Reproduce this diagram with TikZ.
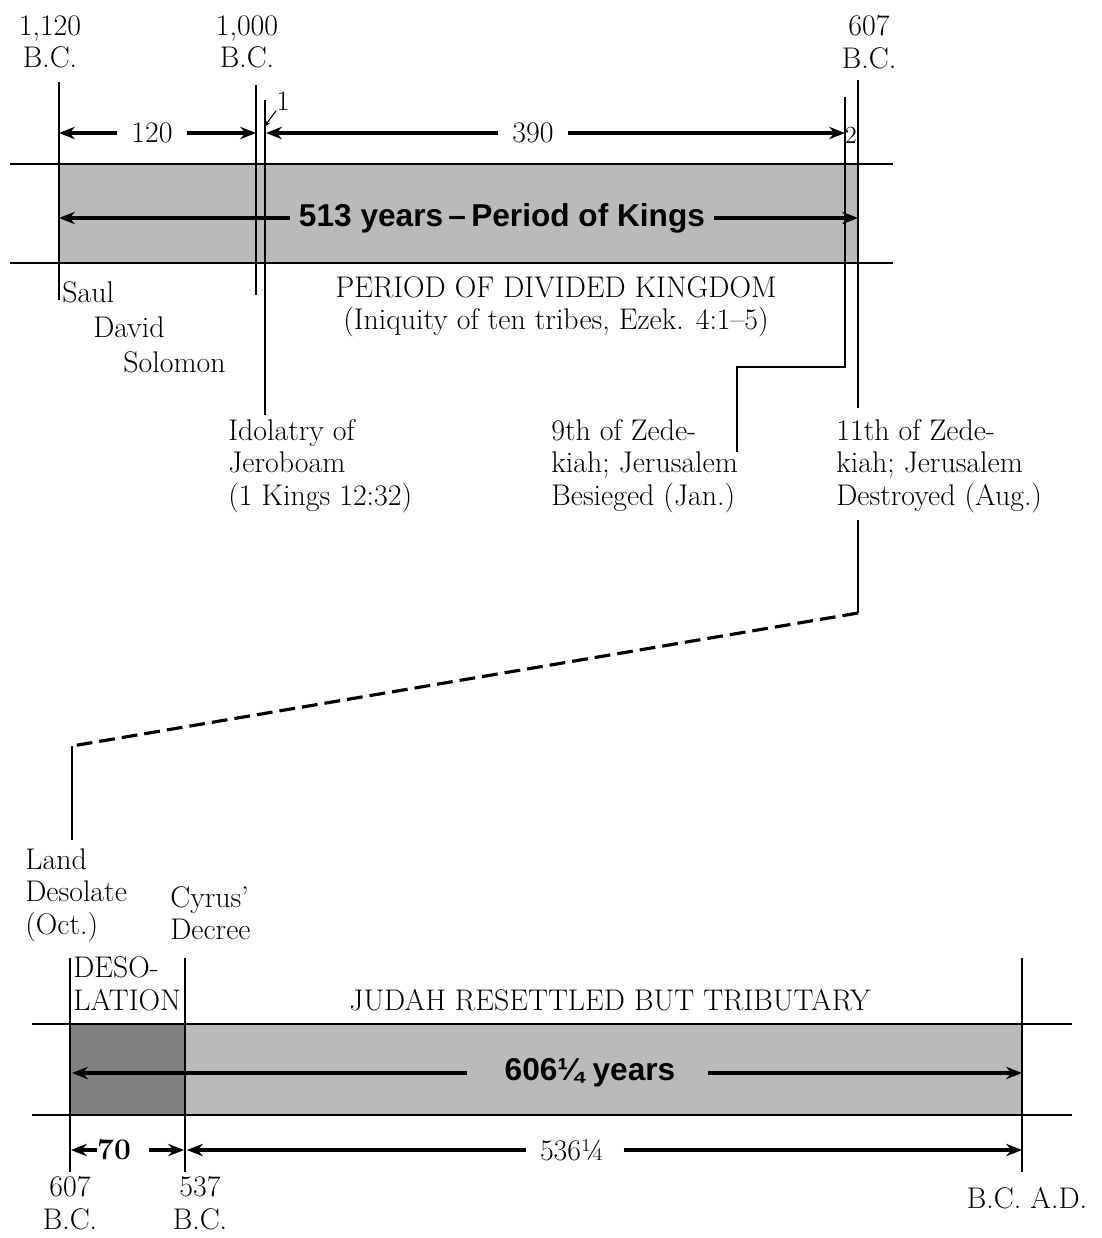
\documentclass[tikz,border=0pt]{standalone}
\usepackage{fontspec}
\newfontfamily\bandfont{Liberation Sans}
\usetikzlibrary{arrows.meta, positioning, calc}
\tikzset{
    tick_line/.style={draw=black, line width=1pt},
    band_line/.style={draw=black, line width=1.2pt},
    link_dash/.style={draw=black, line width=1.8pt, dash pattern=on 9pt off 4pt},
    dim_arrow/.style={-{Stealth[length=9pt,width=7pt]}, line width=1.8pt},
    band_arrow/.style={-{Stealth[length=9pt,width=7pt]}, line width=2pt},
    shade_light/.style={fill=black!27},
    shade_dark/.style={fill=black!50},
    year_lbl/.style={align=center, inner sep=0pt, font=\fontsize{17}{18.5}\selectfont},
    event_lbl/.style={align=left, anchor=west, inner sep=0pt, font=\fontsize{17}{18.5}\selectfont},
    band_lbl/.style={inner sep=0pt, font=\bandfont\bfseries\fontsize{18}{20}\selectfont}
}

\begin{document}
\begin{tikzpicture}[x=0.02cm, y=-0.02cm, >=Stealth]
    \useasboundingbox (0,0) rectangle (1102,1238);

    % period of kings
    \fill[shade_light] (59,164) rectangle (858,263);
    \draw[band_line] (10,164) -- (893,164);
    \draw[band_line] (10,263) -- (893,263);

    \node[year_lbl] (y1120) at (50,42) {1,120\\B.C.};
    \node[year_lbl] (y1000) at (247,42) {1,000\\B.C.};
    \node[year_lbl] (y607a) at (869,42) {607\\B.C.};

    \draw[tick_line] (59,82) -- (59,300);
    \draw[tick_line] (256,85) -- (256,295);
    \draw[tick_line] (265,100) -- (265,415);
    \draw[tick_line] (845,97) |- (737,367) -- (737,452);
    \draw[tick_line] (858,80) -- (858,408);

    \coordinate (k1120) at (59,133);
    \coordinate (k1000) at (256,133);
    \coordinate (kidol) at (266,133);
    \coordinate (k9th) at (845,133);

    \node[year_lbl] (n120) at (152,133) {120};
    \node[year_lbl] (n390) at (533,133) {390};
    \draw[dim_arrow] ([xshift=-8pt]n120.west) -- (k1120);
    \draw[dim_arrow] ([xshift=8pt]n120.east) -- (k1000);
    \draw[dim_arrow] ([xshift=-8pt]n390.west) -- (kidol);
    \draw[dim_arrow] ([xshift=8pt]n390.east) -- (k9th);

    \node[inner sep=0pt, font=\fontsize{16}{18}\selectfont] (n1) at (283,101) {1};
    \draw[-{Stealth[length=4pt,width=3pt]}, line width=0.6pt] (n1.south west) -- (264,127);
    \node[inner sep=0pt, font=\fontsize{14}{16}\selectfont] (n2) at (851,135) {2};

    \coordinate (kstart) at (59,218);
    \coordinate (kend) at (858,218);
    \node[band_lbl] (n513) at (502,218) {513 years\,–\,Period of Kings};
    \draw[band_arrow] (n513.west -| 290,0) -- (kstart);
    \draw[band_arrow] (n513.east -| 714,0) -- (kend);

    \node[event_lbl] (saul) at (62,292) {Saul};
    \node[event_lbl] (david) at (93,327) {David};
    \node[event_lbl] (solomon) at (123,362) {Solomon};
    \node[year_lbl] (divided) at (556,307) {PERIOD OF DIVIDED KINGDOM\\(Iniquity of ten tribes, Ezek. 4:1--5)};

    \node[event_lbl] (idol) at (228,466) {Idolatry of\\Jeroboam\\(1 Kings 12:32)};
    \node[event_lbl] (siege) at (551,466) {9th of Zede-\\kiah; Jerusalem\\Besieged (Jan.)};
    \node[event_lbl] (ruin) at (836,466) {11th of Zede-\\kiah; Jerusalem\\Destroyed (Aug.)};

    % link to the desolation
    \coordinate (ruin_tail) at (858,520);
    \coordinate (ruin_foot) at (858,613);
    \coordinate (land_head) at (72,746);
    \coordinate (land_tail) at (72,840);
    \draw[tick_line] (ruin_tail) -- (ruin_foot);
    \draw[link_dash] (ruin_foot) -- (land_head);
    \draw[tick_line] (land_head) -- (land_tail);

    % desolation and resettlement
    \node[event_lbl] (land) at (25,895) {Land\\Desolate\\(Oct.)};
    \node[event_lbl] (cyrus) at (170,913) {Cyrus'\\Decree};
    \node[event_lbl] (deso) at (73,984) {DESO-\\LATION};
    \node[year_lbl] (judah) at (610,1000) {JUDAH RESETTLED BUT TRIBUTARY};

    \fill[shade_dark] (70,1024) rectangle (185,1115);
    \fill[shade_light] (185,1024) rectangle (1022,1115);
    \draw[band_line] (32,1024) -- (1072,1024);
    \draw[band_line] (32,1115) -- (1072,1115);

    \draw[tick_line] (70,958) -- (70,1172);
    \draw[tick_line] (185,958) -- (185,1172);
    \draw[tick_line] (1022,958) -- (1022,1172);

    \coordinate (d607) at (72,1073);
    \coordinate (dad) at (1022,1073);
    \node[band_lbl] (n606) at (590,1073) {606¼ years};
    \draw[band_arrow] (n606.west -| 467,0) -- (d607);
    \draw[band_arrow] (n606.east -| 708,0) -- (dad);

    \coordinate (b607) at (71,1150);
    \coordinate (b537l) at (184,1150);
    \coordinate (b537r) at (187,1150);
    \coordinate (bad) at (1022,1150);
    \node[year_lbl, font=\bfseries\fontsize{17}{18.5}\selectfont] (n70) at (114,1150) {70};
    \node[year_lbl] (n536) at (572,1150) {536¼};
    \draw[dim_arrow] (n70.west) -- (b607);
    \draw[dim_arrow] ([xshift=10pt]n70.east) -- (b537l);
    \draw[dim_arrow] ([xshift=-8pt]n536.west) -- (b537r);
    \draw[dim_arrow] ([xshift=11pt]n536.east) -- (bad);

    \node[year_lbl] (y607b) at (70,1203) {607\\B.C.};
    \node[year_lbl] (y537) at (200,1203) {537\\B.C.};
    \node[year_lbl] (ybcad) at (1027,1198) {B.C. A.D.};

\end{tikzpicture}
\end{document}
